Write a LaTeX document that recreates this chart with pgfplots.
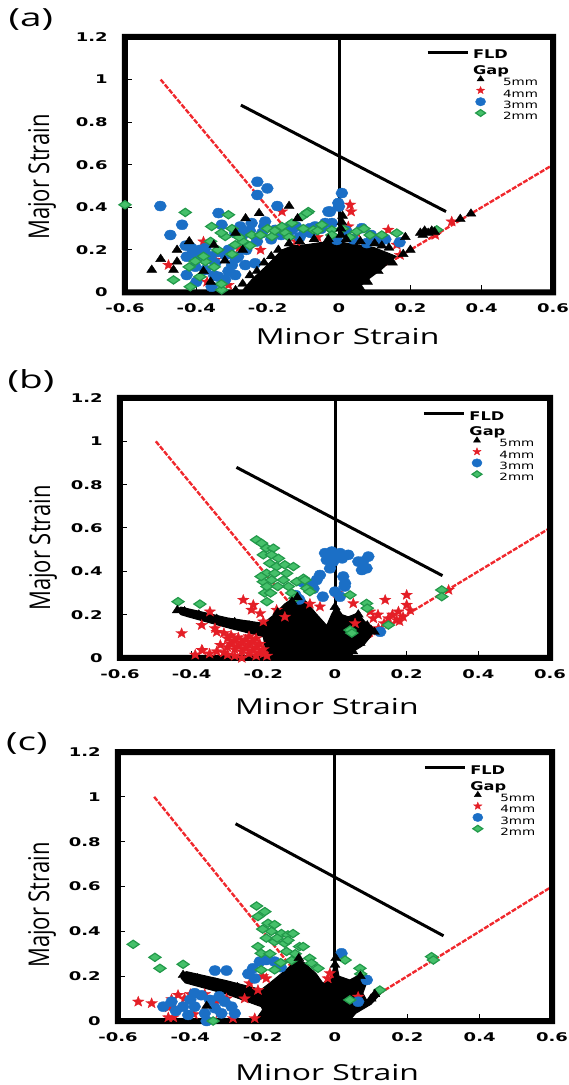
\documentclass[border=0pt]{standalone}
\usepackage{fontspec}
\usepackage{graphicx}
\usepackage{pgfplots}
\pgfplotsset{compat=1.18}
\setmainfont{Open Sans}
\newfontfamily\tickfont{DejaVu Sans}
\newfontfamily\labfont{Open Sans}
\newfontfamily\legfont{DejaVu Sans}

\definecolor{ptblue}{HTML}{1B6FC6}
\definecolor{ptred}{HTML}{E41E26}
\definecolor{ptgreen}{HTML}{45C06A}
\definecolor{ptgreenD}{HTML}{22994A}
\definecolor{lnred}{HTML}{F0282D}

% filled five-pointed star
\pgfdeclareplotmark{fstar}{%
  \pgfpathmoveto{\pgfpointpolar{90}{\pgfplotmarksize}}%
  \pgfpathlineto{\pgfpointpolar{126}{0.42\pgfplotmarksize}}%
  \pgfpathlineto{\pgfpointpolar{162}{\pgfplotmarksize}}%
  \pgfpathlineto{\pgfpointpolar{198}{0.42\pgfplotmarksize}}%
  \pgfpathlineto{\pgfpointpolar{234}{\pgfplotmarksize}}%
  \pgfpathlineto{\pgfpointpolar{270}{0.42\pgfplotmarksize}}%
  \pgfpathlineto{\pgfpointpolar{306}{\pgfplotmarksize}}%
  \pgfpathlineto{\pgfpointpolar{342}{0.42\pgfplotmarksize}}%
  \pgfpathlineto{\pgfpointpolar{18}{\pgfplotmarksize}}%
  \pgfpathlineto{\pgfpointpolar{54}{0.42\pgfplotmarksize}}%
  \pgfpathclose\pgfusepathqfillstroke}

% legend texts: #2 = strut height, which sets the row spacing
\newcommand{\legA}[2]{{\legfont\bfseries\fontsize{12}{12}\selectfont\rule{0pt}{#2}\scalebox{1.35}[1]{#1}}}
\newcommand{\legB}[1]{{\legfont\fontsize{10}{10}\selectfont\rule{0pt}{8.8pt}\hspace*{30pt}\scalebox{1.35}[1]{#1}}}

% thick plot frame, drawn as a filled band (3pt each side of the axis box)
\newcommand{\thickframe}{%
  \fill[black, even odd rule]
    ([xshift=-3pt,yshift=-3pt]rel axis cs:0,0) rectangle ([xshift=3pt,yshift=3pt]rel axis cs:1,1)
    ([xshift=3pt,yshift=3pt]rel axis cs:0,0) rectangle ([xshift=-3pt,yshift=-3pt]rel axis cs:1,1);}

\pgfplotsset{
  fivemm/.style={only marks, mark=triangle*, mark size=5pt, black, mark options={xscale=1.15}},
  fourmm/.style={only marks, mark=fstar, mark size=5.5pt, ptred, mark options={xscale=1.1, fill=ptred, draw=ptred, line width=0.3pt}},
  threemm/.style={only marks, mark=*, mark size=5pt, ptblue, mark options={xscale=1.2, fill=ptblue, draw=ptblue}},
  twomm/.style={only marks, mark=diamond*, mark size=5.5pt, ptgreen, mark options={xscale=1.1, rotate=90, fill=ptgreen, draw=ptgreenD, line width=1.2pt}},
  fld/.style={black, line width=3pt, forget plot},
  slope/.style={lnred, line width=2.4pt, dash pattern=on 5pt off 1.5pt, forget plot},
  blob/.style={fill=black, draw=black, line width=1pt, forget plot},
  fldleg/.style={legend image code/.code={\draw[##1] (0pt,3pt) -- (40pt,3pt);}},
  legmark/.style={legend image code/.code={\draw[overlay,##1] plot coordinates {(53pt,3pt)};}},
  fldpanel/.style={
    scale only axis, clip=false,
    xmin=-0.6, xmax=0.6, ymin=0, ymax=1.2,
    xtick={-0.6,-0.4,-0.2,0,0.2,0.4,0.6},
    ytick={0,0.2,0.4,0.6,0.8,1,1.2},
    tick align=inside, major tick length=7pt, tick pos=left,
    every tick/.style={black, line width=1pt},
    /pgf/number format/assume math mode=true,
    tick label style={font=\tickfont\bfseries\fontsize{12}{12}\selectfont, xscale=1.5},
    xticklabel style={yshift=-8pt},
    yticklabel style={xshift=-8pt},
    xlabel={Minor Strain}, ylabel={Major Strain},
    xlabel style={font=\labfont\fontsize{22}{24}\selectfont, xscale=1.45, anchor=center},
    ylabel style={font=\labfont\fontsize{22}{24}\selectfont, yscale=1.3, anchor=center},
    legend cell align=left,
    legend style={draw=none, fill=none, at={(0.703,0.95)}, anchor=north west,
      inner sep=0pt, column sep=4pt, row sep=1pt, nodes={inner sep=0pt}},
  },
}

\begin{document}
\begin{tikzpicture}
\path[use as bounding box] (0,0) rectangle (569pt,1085pt);

% ---------------- (a) ----------------
\begin{axis}[fldpanel, at={(125pt,792.5pt)}, anchor=south west, width=428pt, height=255.5pt,
  xlabel style={at={(axis description cs:0.52,-0.174)}},
  ylabel style={at={(axis description cs:-0.194,0.452)}}]
\addlegendimage{fldleg, black, line width=3pt}
\addlegendentry{\legA{FLD}{9pt}}
\addlegendimage{empty legend}
\addlegendentry{\legA{Gap}{13pt}}
\addlegendimage{fivemm, mark size=3.5pt, legmark}
\addlegendentry{\legB{5mm}}
\addlegendimage{fourmm, mark size=4pt, legmark}
\addlegendentry{\legB{4mm}}
\addlegendimage{threemm, mark size=4.2pt, legmark}
\addlegendentry{\legB{3mm}}
\addlegendimage{twomm, mark size=4.5pt, legmark}
\addlegendentry{\legB{2mm}}
\addplot[fld] coordinates {(0,0) (0,1.2)};
\addplot[fld] coordinates {(-0.275,0.88) (0.3,0.38)};
\addplot[fourmm, forget plot] coordinates {
(-0.478,0.129) (-0.38,0.239) (-0.16,0.38) (-0.347,0.153) (-0.28,0.21) (-0.37,0.05)
(-0.31,0.035) (-0.22,0.2) (0.031,0.412) (0.034,0.38) (0.026,0.31) (0.138,0.294)
(0.162,0.224) (0.316,0.333) (0.171,0.176) (0.27,0.27) (-0.06,0.26) (-0.12,0.24)
(0.1,0.26) (0.05,0.28)};
\addplot[threemm, forget plot] coordinates {
(-0.229,0.52) (-0.201,0.489) (-0.229,0.458) (-0.173,0.406) (-0.501,0.406) (-0.338,0.373)
(-0.329,0.318) (-0.44,0.318) (-0.473,0.27) (-0.291,0.279) (-0.277,0.31) (-0.245,0.326)
(-0.207,0.333) (-0.216,0.279) (-0.179,0.294) (-0.162,0.27) (-0.132,0.294) (-0.095,0.286)
(-0.067,0.31) (-0.039,0.326) (-0.03,0.38) (0,0.404) (-0.413,0.208) (-0.427,0.168)
(-0.394,0.176) (-0.375,0.208) (-0.403,0.121) (-0.375,0.106) (-0.347,0.137) (-0.319,0.176)
(-0.3,0.129) (-0.283,0.168) (-0.427,0.082) (-0.357,0.027) (-0.338,0.074) (-0.319,0.06)
(-0.291,0.082) (-0.263,0.129) (-0.235,0.137) (0.008,0.467) (-0.002,0.42) (-0.025,0.38)
(-0.081,0.302) (-0.02,0.326) (0.064,0.302) (0.078,0.232) (-0.006,0.247) (0.11,0.24)
(0.17,0.236) (-0.26,0.2) (-0.23,0.24) (-0.11,0.26)
(-0.43,0.22) (-0.41,0.185) (-0.39,0.2) (-0.36,0.17) (-0.34,0.19) (-0.31,0.2) (-0.29,0.16)
(-0.27,0.27) (-0.25,0.29) (-0.21,0.31) (-0.19,0.25) (-0.15,0.3) (-0.12,0.31) (-0.08,0.28)
(-0.05,0.3) (-0.4,0.05) (-0.35,0.08) (-0.31,0.1) (0.02,0.29) (0.04,0.25) (0.09,0.27)
(0.13,0.25)};
\addplot[twomm, forget plot] coordinates {
(-0.6,0.412) (-0.431,0.376) (-0.357,0.31) (-0.31,0.365) (-0.319,0.263) (-0.464,0.059)
(-0.417,0.027) (-0.329,0.012) (-0.375,0.145) (-0.39,0.074) (-0.291,0.224) (-0.245,0.27)
(-0.188,0.263) (-0.16,0.31) (-0.132,0.326) (-0.086,0.38) (-0.104,0.357) (-0.048,0.318)
(-0.02,0.294) (-0.403,0.147) (-0.09,0.373) (-0.072,0.294) (0.05,0.286) (0.087,0.27)
(0.162,0.279) (0.274,0.294) (-0.2,0.3) (-0.15,0.28) (-0.27,0.24) (-0.34,0.2)
(-0.36,0.24) (-0.33,0.28) (-0.3,0.3) (-0.28,0.26) (-0.25,0.22) (-0.22,0.27) (-0.18,0.29)
(-0.14,0.26) (-0.1,0.3) (-0.06,0.29) (-0.02,0.27) (0.01,0.3) (0.03,0.26) (0.07,0.3)
(0.12,0.27) (-0.35,0.12) (-0.33,0.04) (-0.38,0.17) (-0.42,0.12) (-0.3,0.18)};
\addplot[slope] coordinates {(-0.5,1) (0,0)};
\addplot[slope] coordinates {(0,0) (0.6,0.6)};
\addplot[blob] coordinates {
(-0.275,0) (-0.245,0.06) (-0.2,0.13) (-0.16,0.2) (-0.13,0.22) (-0.09,0.225) (-0.05,0.235)
(-0.01,0.24) (0.03,0.23) (0.07,0.22) (0.1,0.21) (0.13,0.19) (0.16,0.17) (0.12,0.11)
(0.08,0.06) (0.04,0) (-0.275,0)};
\addplot[fivemm, forget plot] coordinates {
(-0.29,0.01) (-0.27,0.04) (-0.25,0.08) (-0.23,0.1) (-0.21,0.14) (-0.19,0.17) (-0.17,0.2)
(-0.14,0.23) (-0.11,0.24) (-0.07,0.25) (-0.03,0.25) (0.02,0.25) (0.06,0.24) (0.1,0.23)
(0.14,0.21) (0.18,0.18) (0.15,0.14) (0.11,0.1) (0.08,0.05) (0.06,0.02)
(0.005,0.27) (0.005,0.3) (0.008,0.33) (0.01,0.36)
(-0.525,0.106) (-0.5,0.157) (-0.464,0.106) (-0.454,0.145) (-0.454,0.2) (-0.42,0.24)
(-0.351,0.223) (-0.262,0.348) (-0.224,0.372) (-0.14,0.406) (-0.116,0.348) (-0.27,0.2)
(-0.29,0.28) (-0.32,0.15) (-0.38,0.1) (-0.36,0.05)
(0.228,0.28) (0.24,0.29) (0.25,0.28) (0.26,0.29) (0.268,0.285) (0.235,0.27)
(0.34,0.345) (0.37,0.37) (0.186,0.26) (0.12,0.22) (0.2,0.2)};
\node[font=\labfont\fontsize{25}{25}\selectfont, xscale=1.55] at (rel axis cs:-0.22,1.067) {(a)};
\thickframe
\end{axis}

% ---------------- (b) ----------------
\begin{axis}[fldpanel, at={(120pt,427pt)}, anchor=south west, width=430pt, height=260pt,
  xlabel style={at={(axis description cs:0.481,-0.188)}},
  ylabel style={at={(axis description cs:-0.179,0.423)}}]
\addlegendimage{fldleg, black, line width=3pt}
\addlegendentry{\legA{FLD}{9pt}}
\addlegendimage{empty legend}
\addlegendentry{\legA{Gap}{13pt}}
\addlegendimage{fivemm, mark size=3.5pt, legmark}
\addlegendentry{\legB{5mm}}
\addlegendimage{fourmm, mark size=4pt, legmark}
\addlegendentry{\legB{4mm}}
\addlegendimage{threemm, mark size=4.2pt, legmark}
\addlegendentry{\legB{3mm}}
\addlegendimage{twomm, mark size=4.5pt, legmark}
\addlegendentry{\legB{2mm}}
\addplot[fld] coordinates {(0,0) (0,1.2)};
\addplot[fld] coordinates {(-0.275,0.88) (0.3,0.38)};
\addplot[fourmm, forget plot] coordinates {
(-0.33,0.12) (-0.31,0.115) (-0.3,0.09) (-0.29,0.105) (-0.28,0.08) (-0.27,0.095)
(-0.26,0.07) (-0.25,0.085) (-0.24,0.06) (-0.23,0.075) (-0.22,0.05) (-0.21,0.065)
(-0.2,0.04) (-0.32,0.06) (-0.3,0.05) (-0.28,0.04) (-0.26,0.03) (-0.24,0.02)
(-0.22,0.01) (-0.2,0.02) (-0.3,0.015) (-0.28,0.01) (-0.26,0.0) (-0.33,0.03)
(-0.31,0.025) (-0.35,0.02) (-0.37,0.035) (-0.39,0.015) (-0.27,0.055) (-0.25,0.045)
(-0.23,0.035) (-0.21,0.025) (-0.19,0.01) (-0.29,0.065) (-0.24,0.1) (-0.22,0.09)
(-0.428,0.114) (-0.372,0.037) (-0.349,0.214) (-0.372,0.152) (-0.335,0.137) (-0.256,0.268)
(-0.228,0.245) (-0.233,0.222) (-0.209,0.206) (-0.163,0.222) (-0.2,0.168) (-0.042,0.237)
(0.005,0.3) (0.051,0.252) (0.14,0.268) (0.2,0.291) (0.2,0.245) (0.177,0.214)
(0.098,0.214) (0.107,0.183) (0.149,0.183) (0.137,0.16) (0.172,0.175) (0.121,0.137)
(0.056,0.16) (0.317,0.314) (0.21,0.22) (0.16,0.2) (0.19,0.19) (0.12,0.2) (0.18,0.17)
(-0.07,0.25) (-0.14,0.19)};
\addplot[threemm, forget plot] coordinates {
(-0.028,0.484) (-0.009,0.491) (0.014,0.484) (0.037,0.476) (-0.023,0.453) (-0.005,0.445)
(-0.014,0.414) (0,0.465) (0.02,0.46) (0.065,0.445) (0.078,0.445) (0.093,0.468)
(0.075,0.406) (0.088,0.414) (0.028,0.345) (0.023,0.376) (-0.042,0.383) (-0.051,0.36)
(-0.075,0.337) (-0.09,0.35) (0,0.306) (0.014,0.283) (0.126,0.121) (-0.034,0.283)
(0.027,0.33) (-0.06,0.32) (-0.11,0.29) (-0.1,0.27)};
\addplot[twomm, forget plot] coordinates {
(-0.219,0.545) (-0.205,0.53) (-0.191,0.507) (-0.172,0.507) (-0.2,0.476) (-0.177,0.476)
(-0.158,0.46) (-0.182,0.437) (-0.163,0.422) (-0.14,0.43) (-0.116,0.422) (-0.191,0.391)
(-0.168,0.391) (-0.2,0.352) (-0.177,0.36) (-0.135,0.391) (-0.144,0.36) (-0.107,0.352)
(-0.088,0.368) (-0.196,0.3) (-0.18,0.3) (-0.121,0.3) (-0.112,0.276) (-0.438,0.26)
(-0.377,0.249) (-0.079,0.322) (-0.206,0.376) (-0.084,0.36) (-0.07,0.306) (0.042,0.291)
(0.088,0.252) (0.09,0.23) (0.042,0.129) (0.149,0.152) (0.298,0.314) (0.298,0.283)
(0.047,0.115) (-0.19,0.33) (-0.13,0.33) (-0.16,0.33) (-0.19,0.26)};
\addplot[slope] coordinates {(-0.5,1) (0,0)};
\addplot[slope] coordinates {(0,0) (0.6,0.6)};
\addplot[blob] coordinates {
(-0.44,0.225) (-0.43,0.235) (-0.3,0.185) (-0.2,0.16) (-0.17,0.2) (-0.14,0.25)
(-0.105,0.29) (-0.08,0.26) (-0.054,0.207) (-0.023,0.15) (-0.01,0.2) (0.003,0.24)
(0.02,0.2) (0.037,0.19) (0.063,0.207) (0.088,0.16) (0.108,0.14) (0.1,0.1) (0.08,0.06)
(0.058,0.037) (0.04,0) (-0.19,0) (-0.2,0.098) (-0.3,0.14) (-0.41,0.19) (-0.43,0.2)
(-0.44,0.225)};
\addplot[fivemm, forget plot] coordinates {
(-0.44,0.22) (-0.42,0.215) (-0.38,0.2) (-0.33,0.18) (-0.28,0.165) (-0.24,0.15)
(-0.105,0.28) (-0.12,0.26) (0,0.235) (0.065,0.2) (0.1,0.13) (0.11,0.12) (0.09,0.15)
(-0.16,0.21) (0.05,0.03) (0.07,0.07)};
\node[font=\labfont\fontsize{25}{25}\selectfont, xscale=1.55] at (rel axis cs:-0.207,1.065) {(b)};
\thickframe
\end{axis}

% ---------------- (c) ----------------
\begin{axis}[fldpanel, at={(118pt,64pt)}, anchor=south west, width=434pt, height=269pt,
  xlabel style={at={(axis description cs:0.482,-0.19)}},
  ylabel style={at={(axis description cs:-0.175,0.431)}}]
\addlegendimage{fldleg, black, line width=3pt}
\addlegendentry{\legA{FLD}{9pt}}
\addlegendimage{empty legend}
\addlegendentry{\legA{Gap}{13pt}}
\addlegendimage{fivemm, mark size=3.5pt, legmark}
\addlegendentry{\legB{5mm}}
\addlegendimage{fourmm, mark size=4pt, legmark}
\addlegendentry{\legB{4mm}}
\addlegendimage{threemm, mark size=4.2pt, legmark}
\addlegendentry{\legB{3mm}}
\addlegendimage{twomm, mark size=4.5pt, legmark}
\addlegendentry{\legB{2mm}}
\addplot[fld] coordinates {(0,0) (0,1.2)};
\addplot[fld] coordinates {(-0.275,0.88) (0.3,0.38)};
\addplot[fourmm, forget plot] coordinates {
(-0.544,0.086) (-0.507,0.079) (-0.461,0.016) (-0.447,0.016) (-0.452,0.097) (-0.434,0.116)
(-0.416,0.1) (-0.443,0.057) (-0.46,0.06) (-0.36,0.12) (-0.236,0.168) (-0.213,0.138)
(-0.25,0.1) (-0.222,0.012) (-0.282,0.012) (-0.32,0.034) (-0.014,0.213) (-0.02,0.19)
(0.064,0.108) (-0.3,0.1) (-0.33,0.08) (-0.39,0.03) (-0.2,0.2) (-0.19,0.19) (-0.4,0.12)};
\addplot[threemm, forget plot] coordinates {
(-0.332,0.225) (-0.3,0.225) (-0.24,0.21) (-0.227,0.235) (-0.222,0.19) (-0.208,0.265)
(-0.19,0.272) (-0.167,0.265) (-0.475,0.064) (-0.452,0.086) (-0.388,0.124) (-0.37,0.115)
(-0.42,0.064) (-0.388,0.064) (-0.346,0.094) (-0.332,0.057) (-0.305,0.086) (-0.286,0.064)
(-0.314,0.034) (-0.406,0.027) (-0.355,0) (-0.277,0.034) (-0.36,0.034) (-0.44,0.045)
(-0.4,0.095) (-0.32,0.11) (0.018,0.302) (0.088,0.183) (0.064,0.086) (-0.15,0.24)};
\addplot[twomm, forget plot] coordinates {
(-0.217,0.513) (-0.194,0.488) (-0.213,0.466) (-0.185,0.436) (-0.167,0.43) (-0.176,0.4)
(-0.148,0.39) (-0.13,0.384) (-0.116,0.39) (-0.19,0.37) (-0.167,0.354) (-0.139,0.347)
(-0.098,0.332) (-0.213,0.332) (-0.204,0.302) (-0.18,0.3) (-0.134,0.31) (-0.11,0.3)
(-0.07,0.28) (-0.065,0.258) (-0.047,0.235) (-0.204,0.228) (-0.167,0.228) (-0.558,0.342)
(-0.498,0.284) (-0.484,0.235) (-0.42,0.253) (-0.337,0) (-0.088,0.332) (0.069,0.235)
(0.071,0.21) (0.124,0.138) (0.041,0.094) (0.267,0.287) (0.272,0.272) (0.028,0.272)
(-0.15,0.26) (-0.12,0.27) (-0.2,0.41) (-0.16,0.37) (-0.13,0.36)};
\addplot[slope] coordinates {(-0.5,1) (0,0)};
\addplot[slope] coordinates {(0,0) (0.6,0.6)};
\addplot[blob] coordinates {
(-0.42,0.215) (-0.41,0.22) (-0.3,0.18) (-0.204,0.14) (-0.18,0.17) (-0.157,0.2)
(-0.12,0.25) (-0.104,0.285) (-0.085,0.26) (-0.053,0.213) (-0.033,0.168) (-0.01,0.2)
(0.002,0.275) (0.011,0.2) (0.041,0.183) (0.066,0.205) (0.087,0.168) (0.077,0.124)
(0.087,0.094) (0.11,0.11) (0.12,0.13) (0.125,0.12) (0.1,0.075) (0.057,0.034) (0.04,0)
(-0.222,0) (-0.2,0.05) (-0.204,0.064) (-0.3,0.12) (-0.414,0.17) (-0.425,0.19)
(-0.42,0.215)};
\addplot[fivemm, forget plot] coordinates {
(-0.355,0.067) (-0.42,0.205) (-0.38,0.19) (-0.33,0.17) (-0.27,0.15) (-0.1,0.28)
(0.002,0.28) (0,0.25) (0.07,0.2) (0.11,0.12) (0.1,0.1)};
\node[font=\labfont\fontsize{25}{25}\selectfont, xscale=1.55] at (rel axis cs:-0.21,1.03) {(c)};
\thickframe
\end{axis}
\end{tikzpicture}
\end{document}
